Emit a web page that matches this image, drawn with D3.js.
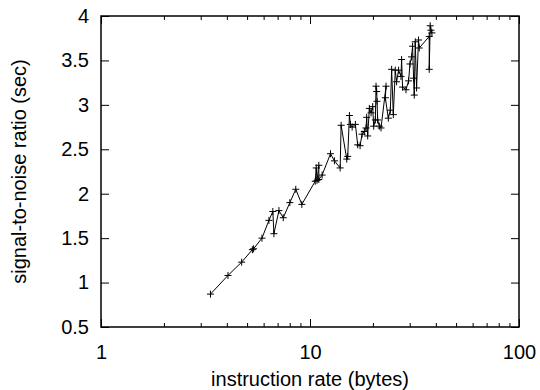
<!DOCTYPE html>
<html>
<head>
<meta charset="utf-8">
<script src="https://cdn.jsdelivr.net/npm/d3@7"></script>
<style>
  body { margin: 0; background: #fff; }
  svg text { font-family: "Liberation Sans", Arial, Helvetica, sans-serif; }
</style>
</head>
<body>
<svg id="chart" width="540" height="390"></svg>
<script>
// instruction rate (bytes) vs signal-to-noise ratio (sec)
var rate = [3.34, 4.05, 4.71, 5.30, 5.37, 5.89, 6.36, 6.64, 6.72, 7.10,
            7.45, 8.01, 8.55, 9.14, 10.59, 10.71, 10.80, 11.02, 11.02, 11.43,
            12.53, 13.09, 13.94, 14.09, 14.99, 15.15, 15.44, 15.61, 15.91, 16.49,
            16.91, 17.36, 17.75, 18.20, 18.55, 18.67, 18.88, 19.23, 19.60, 19.95,
            20.17, 20.54, 20.70, 20.84, 20.93, 21.07, 21.47, 21.87, 23.11, 22.93,
            23.70, 24.23, 24.58, 25.04, 25.59, 25.96, 26.54, 27.25, 27.43, 27.73,
            28.79, 29.63, 30.09, 30.62, 30.96, 31.30, 31.54, 31.89, 32.35, 33.06,
            33.32, 37.19, 37.19, 37.60, 37.89, 38.31];
var snr = [0.87, 1.08, 1.23, 1.37, 1.38, 1.50, 1.70, 1.80, 1.55, 1.81,
           1.73, 1.90, 2.05, 1.88, 2.14, 2.29, 2.15, 2.32, 2.16, 2.21,
           2.45, 2.37, 2.29, 2.77, 2.39, 2.42, 2.88, 2.78, 2.75, 2.78,
           2.55, 2.54, 2.67, 2.70, 2.74, 2.86, 2.65, 2.96, 2.91, 2.98,
           2.76, 2.83, 3.21, 3.15, 3.04, 2.83, 2.76, 2.74, 3.21, 3.08,
           2.85, 2.94, 3.40, 2.89, 3.39, 3.26, 3.39, 3.32, 3.51, 3.20,
           3.17, 3.27, 3.46, 3.54, 3.66, 3.30, 3.11, 3.71, 3.19, 3.73,
           3.64, 3.77, 3.40, 3.89, 3.84, 3.81];

var xMajor = [1, 10, 100];
var xMinor = [2, 3, 4, 5, 6, 7, 8, 9, 20, 30, 40, 50, 60, 70, 80, 90];
var yTicks = [0.5, 1, 1.5, 2, 2.5, 3, 3.5, 4];

var margin = { top: 16, right: 21, bottom: 63, left: 101 };
var width = 540 - margin.left - margin.right;
var height = 390 - margin.top - margin.bottom;

var svg = d3.select("#chart");
var g = svg.append("g").attr("transform", "translate(" + [margin.left, margin.top] + ")");

var x = d3.scaleLog().domain([1, 100]).range([0, width]);
var y = d3.scaleLinear().domain([0.5, 4]).range([height, 0]);

function styleAxis(sel) {
    sel.select(".domain").remove();
    sel.selectAll("line").attr("stroke", "#000");
    sel.selectAll("text").attr("fill", "#000").style("font-size", "20px");
}

g.append("g").attr("transform", "translate(0," + height + ")")
    .call(d3.axisBottom(x).tickValues(xMajor).tickSize(-8).tickPadding(18).tickFormat(d3.format("d")))
    .call(styleAxis);
g.append("g").attr("transform", "translate(0," + height + ")")
    .call(d3.axisBottom(x).tickValues(xMinor).tickSize(-4).tickFormat(""))
    .call(styleAxis);
g.append("g")
    .call(d3.axisTop(x).tickValues(xMajor).tickSize(-8).tickFormat(""))
    .call(styleAxis);
g.append("g")
    .call(d3.axisTop(x).tickValues(xMinor).tickSize(-4).tickFormat(""))
    .call(styleAxis);
g.append("g")
    .call(d3.axisLeft(y).tickValues(yTicks).tickSize(-8).tickPadding(12).tickFormat(d3.format("")))
    .call(styleAxis);
g.append("g").attr("transform", "translate(" + width + ",0)")
    .call(d3.axisRight(y).tickValues(yTicks).tickSize(-8).tickFormat(""))
    .call(styleAxis);

g.append("rect")
    .attr("width", width).attr("height", height)
    .attr("fill", "none").attr("stroke", "#000").attr("stroke-width", 1.5);

var pts = rate.map(function (d, i) { return [d, snr[i]]; });

g.append("path")
    .datum(pts)
    .attr("fill", "none")
    .attr("stroke", "#000")
    .attr("stroke-width", 1)
    .attr("d", d3.line().x(function (d) { return x(d[0]); }).y(function (d) { return y(d[1]); }));

g.selectAll(".pt").data(pts).enter().append("path")
    .attr("class", "pt")
    .attr("transform", function (d) { return "translate(" + [x(d[0]), y(d[1])] + ")"; })
    .attr("d", "M-3.5,0H3.5M0,-3.5V3.5")
    .attr("stroke", "#000")
    .attr("stroke-width", 1);

svg.append("text")
    .attr("x", margin.left + width / 2).attr("y", 386)
    .attr("text-anchor", "middle")
    .style("font-size", "20px")
    .text("instruction rate (bytes)");

svg.append("text")
    .attr("transform", "translate(26," + (margin.top + height / 2) + ") rotate(-90)")
    .attr("text-anchor", "middle")
    .style("font-size", "20px")
    .text("signal-to-noise ratio (sec)");
</script>
</body>
</html>
